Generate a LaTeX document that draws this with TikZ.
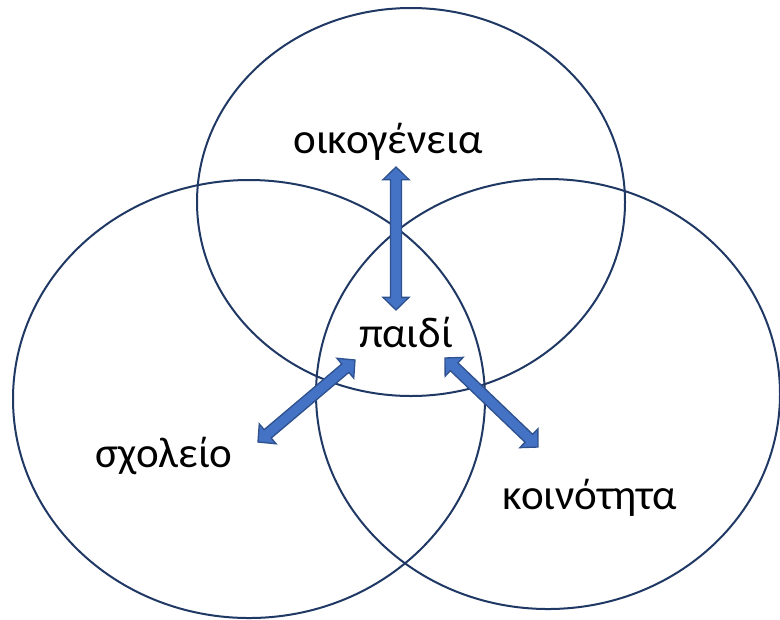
\documentclass[tikz,border=0pt]{standalone}
\usepackage{fontspec}
\setmainfont{Carlito}
\usepackage{tikz}
\usetikzlibrary{calc}
\definecolor{VennAzulOscuro}{RGB}{32, 56, 100}
\definecolor{flecha}{RGB}{68, 114, 196}
\definecolor{flechaborde}{RGB}{47, 82, 143}
\colorlet{azul}{VennAzulOscuro}
\newcommand{\dobleflecha}[2]{%
  \coordinate (ha) at ($(#1)!9.5pt!(#2)$);
  \coordinate (hb) at ($(#2)!9.5pt!(#1)$);
  \filldraw[bloque] (#1) -- ($(ha)!9.75pt!90:(#2)$) -- ($(ha)!4.1pt!90:(#2)$)
    -- ($(hb)!4.1pt!-90:(#1)$) -- ($(hb)!9.75pt!-90:(#1)$) -- (#2)
    -- ($(hb)!9.75pt!90:(#1)$) -- ($(hb)!4.1pt!90:(#1)$)
    -- ($(ha)!4.1pt!-90:(#2)$) -- ($(ha)!9.75pt!-90:(#2)$) -- cycle;}

\begin{document}
\begin{tikzpicture}[x=0.75pt,y=-0.75pt,
    circulo/.style={azul,line width=1.5pt},
    bloque/.style={fill=flecha,draw=flechaborde,line width=1pt,line join=miter},
    etiqueta/.style={anchor=base,inner sep=0pt,font=\fontsize{32.3}{38}\selectfont}]
        \useasboundingbox (0,0) rectangle (780,619);
        \draw[circulo] (411,202) ellipse (214 and 194);
        \draw[circulo] (249,399) ellipse (236 and 219);
        \draw[circulo] (548,394) ellipse (232 and 215);
        \node[etiqueta] (familia) at (388,153) {οικογένεια};
        \node[etiqueta] (nino) at (406,347) {παιδί};
        \node[etiqueta] (escuela) at (164,467) {σχολείο};
        \node[etiqueta] (comunidad) at (590,509) {κοινότητα};
        \coordinate (f1) at (396,167);
        \coordinate (f2) at (396,310);
        \coordinate (e1) at (355,360);
        \coordinate (e2) at (258,442);
        \coordinate (c1) at (445,358);
        \coordinate (c2) at (538,447);
        \dobleflecha{f1}{f2}
        \dobleflecha{e1}{e2}
        \dobleflecha{c1}{c2}
      \end{tikzpicture}
\end{document}
